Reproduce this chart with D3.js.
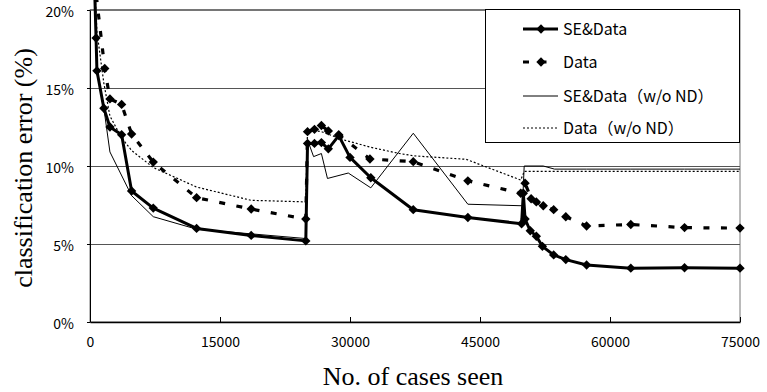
<!DOCTYPE html>
<html>
<head>
<meta charset="utf-8">
<script src="https://cdn.jsdelivr.net/npm/d3@7"></script>
<style>
  html, body { margin: 0; padding: 0; background: #fff; }
  svg { display: block; }
  .tick text { font-family: "Noto Sans CJK JP", "Noto Sans", sans-serif; font-size: 14px; fill: #000; }
  .legend text { font-family: "Noto Sans CJK JP", "Noto Sans", sans-serif; font-size: 16px; fill: #000; }
  .title { font-family: "Liberation Serif", "DejaVu Serif", serif; fill: #000; }
</style>
</head>
<body>
<svg id="chart" width="767" height="392"></svg>
<script>
// [cases seen, error %]
const seData = [
  [500, 22], [700, 18.2], [800, 16.1], [1600, 13.7], [2300, 12.5], [3650, 12.0],
  [4800, 8.4], [7300, 7.3], [12300, 6.0], [18600, 5.55], [24900, 5.2],
  [25100, 11.45], [25900, 11.45], [26700, 11.5], [27500, 11.1], [28700, 11.95],
  [30000, 10.55], [32400, 9.25], [37300, 7.2], [43600, 6.7], [49800, 6.3],
  [50000, 8.25], [50200, 6.6], [50800, 5.85], [51500, 5.5], [52200, 4.85],
  [53500, 4.3], [54900, 4.0], [57300, 3.65], [62400, 3.45], [68600, 3.48], [75000, 3.45]
];
const dataOnly = [
  [500, 22], [1700, 16.25], [2300, 14.3], [3650, 13.95], [4800, 12.05], [7300, 10.25],
  [12300, 7.97], [18600, 7.24], [24900, 6.6], [25100, 12.2], [25900, 12.35],
  [26700, 12.6], [27500, 12.25], [28700, 12.0], [32300, 10.45], [37300, 10.28],
  [43600, 9.05], [49700, 8.25], [50200, 8.9], [50900, 7.9], [51500, 7.7],
  [52300, 7.45], [53500, 7.2], [54900, 6.75], [57300, 6.15], [62400, 6.25],
  [68600, 6.05], [75000, 6.02]
];
const seDataNoND = [
  [500, 22], [700, 18.2], [800, 16.1], [1600, 13.7], [2300, 10.9], [4800, 8.1],
  [7300, 6.75], [12300, 5.95], [18600, 5.65], [24900, 5.35], [25100, 11.67],
  [25800, 10.6], [26700, 10.8], [27400, 9.2], [29800, 9.55], [32400, 8.6],
  [37300, 12.1], [43600, 7.55], [49900, 7.45], [50100, 10.0], [52300, 10.0],
  [53600, 9.8], [57300, 9.8], [62400, 9.8], [68600, 9.8], [75000, 9.8]
];
const dataNoND = [
  [500, 22], [800, 18.6], [1600, 15.3], [2300, 13.2], [3650, 11.8], [4800, 11.0],
  [7300, 9.9], [12300, 8.65], [18600, 7.8], [24900, 7.7], [25100, 12.35],
  [26700, 12.2], [29300, 11.67], [32400, 11.2], [35700, 10.8], [37400, 10.65],
  [43400, 10.43], [49700, 9.1], [50100, 9.65], [62400, 9.65], [75000, 9.65]
];

const legendLabels = ["SE&Data", "Data", "SE&Data（w/o ND）", "Data（w/o ND）"];
const xTicks = [0, 15000, 30000, 45000, 60000, 75000];
const yTicks = [0, 5, 10, 15, 20];
const gridValues = [5, 10, 15];

const svg = d3.select("#chart");

const x = d3.scaleLinear().domain([0, 75000]).range([90, 740]);
const y = d3.scaleLinear().domain([0, 20]).range([322, 10]);

// plot frame
svg.append("rect")
  .attr("x", x(0)).attr("y", y(20))
  .attr("width", x(75000) - x(0)).attr("height", y(0) - y(20))
  .attr("fill", "none").attr("stroke", "#777").attr("stroke-width", 1);

svg.append("g")
  .selectAll("line")
  .data(gridValues)
  .join("line")
  .attr("x1", x(0)).attr("x2", x(75000))
  .attr("y1", (d) => y(d) + 0.5).attr("y2", (d) => y(d) + 0.5)
  .attr("stroke", "#555").attr("stroke-width", 1);

// top border darker
svg.append("line")
  .attr("x1", x(0)).attr("x2", x(75000))
  .attr("y1", y(20)).attr("y2", y(20))
  .attr("stroke", "#333");

const line = d3.line().x((d) => x(d[0])).y((d) => y(d[1]));

svg.append("path").datum(dataNoND)
  .attr("d", line).attr("fill", "none")
  .attr("stroke", "#000").attr("stroke-width", 1.2).attr("stroke-dasharray", "2,2");

svg.append("path").datum(seDataNoND)
  .attr("d", line).attr("fill", "none")
  .attr("stroke", "#000").attr("stroke-width", 1);

svg.append("path").datum(dataOnly)
  .attr("d", line).attr("fill", "none")
  .attr("stroke", "#000").attr("stroke-width", 3.2).attr("stroke-dasharray", "6,11.5");

svg.append("path").datum(seData)
  .attr("d", line).attr("fill", "none")
  .attr("stroke", "#000").attr("stroke-width", 3).attr("stroke-linejoin", "round");

const diamond = d3.symbol(d3.symbolSquare, 44);

function drawMarkers(series) {
  svg.append("g")
    .selectAll("path")
    .data(series)
    .join("path")
    .attr("d", diamond)
    .attr("transform", (d) => `translate(${x(d[0])},${y(d[1])}) rotate(45)`)
    .attr("fill", "#000");
}
drawMarkers(dataOnly);
drawMarkers(seData);

// axes
const yAxis = svg.append("g")
  .attr("transform", `translate(${x(0)},0)`)
  .call(d3.axisLeft(y).tickValues(yTicks).tickFormat((d) => d + "%")
    .tickSize(3).tickSizeOuter(0).tickPadding(13));
yAxis.select(".domain").attr("stroke", "#000");
yAxis.selectAll(".tick text").attr("dy", "0.45em");

const xAxis = svg.append("g")
  .attr("transform", `translate(0,${y(0)})`)
  .call(d3.axisBottom(x).tickValues(xTicks).tickFormat(d3.format("d"))
    .tickSize(-5).tickSizeOuter(0).tickPadding(15));
xAxis.select(".domain").attr("stroke", "#000").attr("stroke-width", 1.5);

// titles
svg.append("text")
  .attr("class", "title")
  .attr("x", 413).attr("y", 385)
  .attr("text-anchor", "middle")
  .attr("font-size", 26)
  .text("No. of cases seen");

svg.append("text")
  .attr("class", "title")
  .attr("transform", "translate(32,168) rotate(-90)")
  .attr("text-anchor", "middle")
  .attr("font-size", 26)
  .text("classification error (%)");

// legend
const legend = svg.append("g").attr("class", "legend");
legend.append("rect")
  .attr("x", 485.5).attr("y", 9.5).attr("width", 254).attr("height", 133)
  .attr("fill", "#fff").attr("stroke", "#000");

const legendY = [29, 62, 96, 128];
const legendStyles = [
  { w: 3, dash: null, marker: true },
  { w: 3.2, dash: "6,11.5", marker: true },
  { w: 1, dash: null, marker: false },
  { w: 1.2, dash: "2,2", marker: false },
];

legendLabels.forEach((label, i) => {
  const s = legendStyles[i];
  const g = legend.append("g").attr("transform", `translate(0,${legendY[i]})`);
  g.append("line")
    .attr("x1", 523).attr("x2", 558)
    .attr("stroke", "#000").attr("stroke-width", s.w)
    .attr("stroke-dasharray", s.dash);
  if (s.marker) {
    g.append("path").attr("d", diamond).attr("transform", "translate(541,0) rotate(45)");
  }
  g.append("text")
    .attr("x", 563).attr("y", 0).attr("dy", "0.35em")
    .text(label);
});
</script>
</body>
</html>
